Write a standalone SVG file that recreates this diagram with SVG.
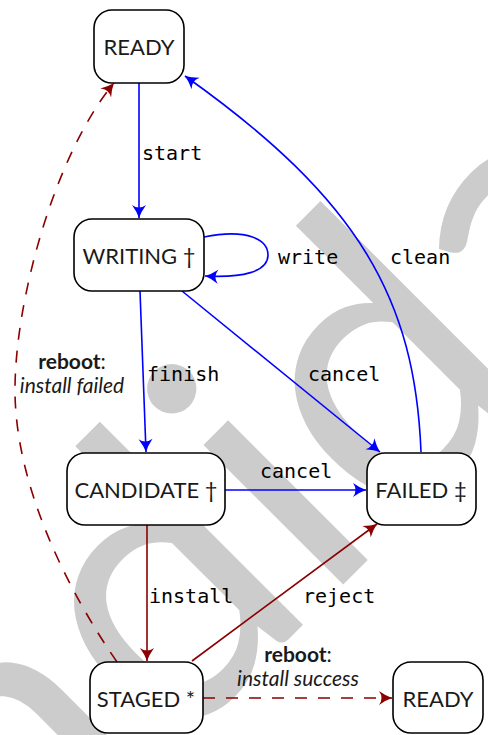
<svg xmlns="http://www.w3.org/2000/svg" width="488" height="735" viewBox="0 0 488 735">
  <style>
    .node rect { fill: #ffffff; stroke: #000000; stroke-width: 1.6; }
    .node text { font-family: Lato, "Noto Sans", sans-serif; font-size: 22px; fill: #1a1a1a; text-anchor: middle; }
    .edge { fill: none; stroke-width: 1.6; }
    .blue { stroke: #0000ff; }
    .red { stroke: #8b0000; }
    .dash { stroke-dasharray: 12 11; }
    .lbl { font-family: "DejaVu Sans Mono", "Liberation Mono", monospace; font-size: 20px; fill: #000000; }
    .note { font-family: Lato, "Noto Sans", sans-serif; font-size: 21px; fill: #1a1a1a; text-anchor: middle; }
    .wm { font-family: Lato, "Noto Sans", sans-serif; font-size: 390px; fill: #cccccc; text-anchor: middle; }
  </style>
  <defs>
    <marker id="ah-blue" viewBox="-15 -8 16 16" refX="0" refY="0" markerWidth="16" markerHeight="16" markerUnits="userSpaceOnUse" orient="auto">
      <path d="M0,0 Q-6,-2 -13,-7 Q-8,0 -13,7 Q-6,2 0,0Z" fill="#0000ff"/>
    </marker>
    <marker id="ah-red" viewBox="-15 -8 16 16" refX="0" refY="0" markerWidth="16" markerHeight="16" markerUnits="userSpaceOnUse" orient="auto">
      <path d="M0,0 Q-6,-2 -13,-7 Q-8,0 -13,7 Q-6,2 0,0Z" fill="#8b0000"/>
    </marker>
  </defs>

  <!-- background watermark -->
  <text class="wm" transform="translate(333.7,594.1) rotate(-45)">candidate</text>

  <g id="edges">
    <path class="edge blue" d="M139,83 L139,218" marker-end="url(#ah-blue)"/>
    <path class="edge blue" d="M204,237 C248,228 268,240 268,255 C268,272 242,278 205,276" marker-end="url(#ah-blue)"/>
    <path class="edge blue" d="M140,291 L146,452" marker-end="url(#ah-blue)"/>
    <path class="edge blue" d="M182,291 L380,452" marker-end="url(#ah-blue)"/>
    <path class="edge blue" d="M421,452 C415,300 360,200 185,76" marker-end="url(#ah-blue)"/>
    <path class="edge blue" d="M225,490 L366,490" marker-end="url(#ah-blue)"/>
    <path class="edge red" d="M147,525 L147,661" marker-end="url(#ah-red)"/>
    <path class="edge red" d="M192,661 L377,524" marker-end="url(#ah-red)"/>
    <path class="edge red dash" d="M203,698 L392,698" marker-end="url(#ah-red)"/>
    <path class="edge red dash" d="M117,662 C62,582 15,480 15,390 C15,300 55,154 114,83" marker-end="url(#ah-red)"/>

    <text class="lbl" x="142" y="160">start</text>
    <text class="lbl" x="278" y="264">write</text>
    <text class="lbl" x="390" y="264">clean</text>
    <text class="lbl" x="147" y="381">finish</text>
    <text class="lbl" x="308" y="381">cancel</text>
    <text class="lbl" x="260" y="478">cancel</text>
    <text class="lbl" x="149" y="603">install</text>
    <text class="lbl" x="303" y="603">reject</text>
    <text class="note" x="72" y="369"><tspan font-weight="bold">reboot</tspan>:</text>
    <text class="note" x="72" y="393" font-style="italic">install failed</text>
    <text class="note" x="298" y="662"><tspan font-weight="bold">reboot</tspan>:</text>
    <text class="note" x="298" y="686" font-style="italic">install success</text>
  </g>

  <g id="ready" class="node">
    <rect x="94" y="10" width="90" height="73" rx="18"/>
    <text x="139" y="55">READY</text>
  </g>
  <g id="writing" class="node">
    <rect x="74" y="219" width="130" height="72" rx="18"/>
    <text x="139" y="264">WRITING †</text>
  </g>
  <g id="candidate" class="node">
    <rect x="67" y="453" width="158" height="72" rx="18"/>
    <text x="146" y="498">CANDIDATE †</text>
  </g>
  <g id="failed" class="node">
    <rect x="367" y="453" width="109" height="72" rx="18"/>
    <text x="421" y="498">FAILED ‡</text>
  </g>
  <g id="staged" class="node">
    <rect x="90" y="662" width="113" height="71" rx="18"/>
    <text x="146" y="707">STAGED *</text>
  </g>
  <g id="ready-final" class="node">
    <rect x="393" y="662" width="90" height="71" rx="18"/>
    <text x="438" y="707">READY</text>
  </g>
</svg>
